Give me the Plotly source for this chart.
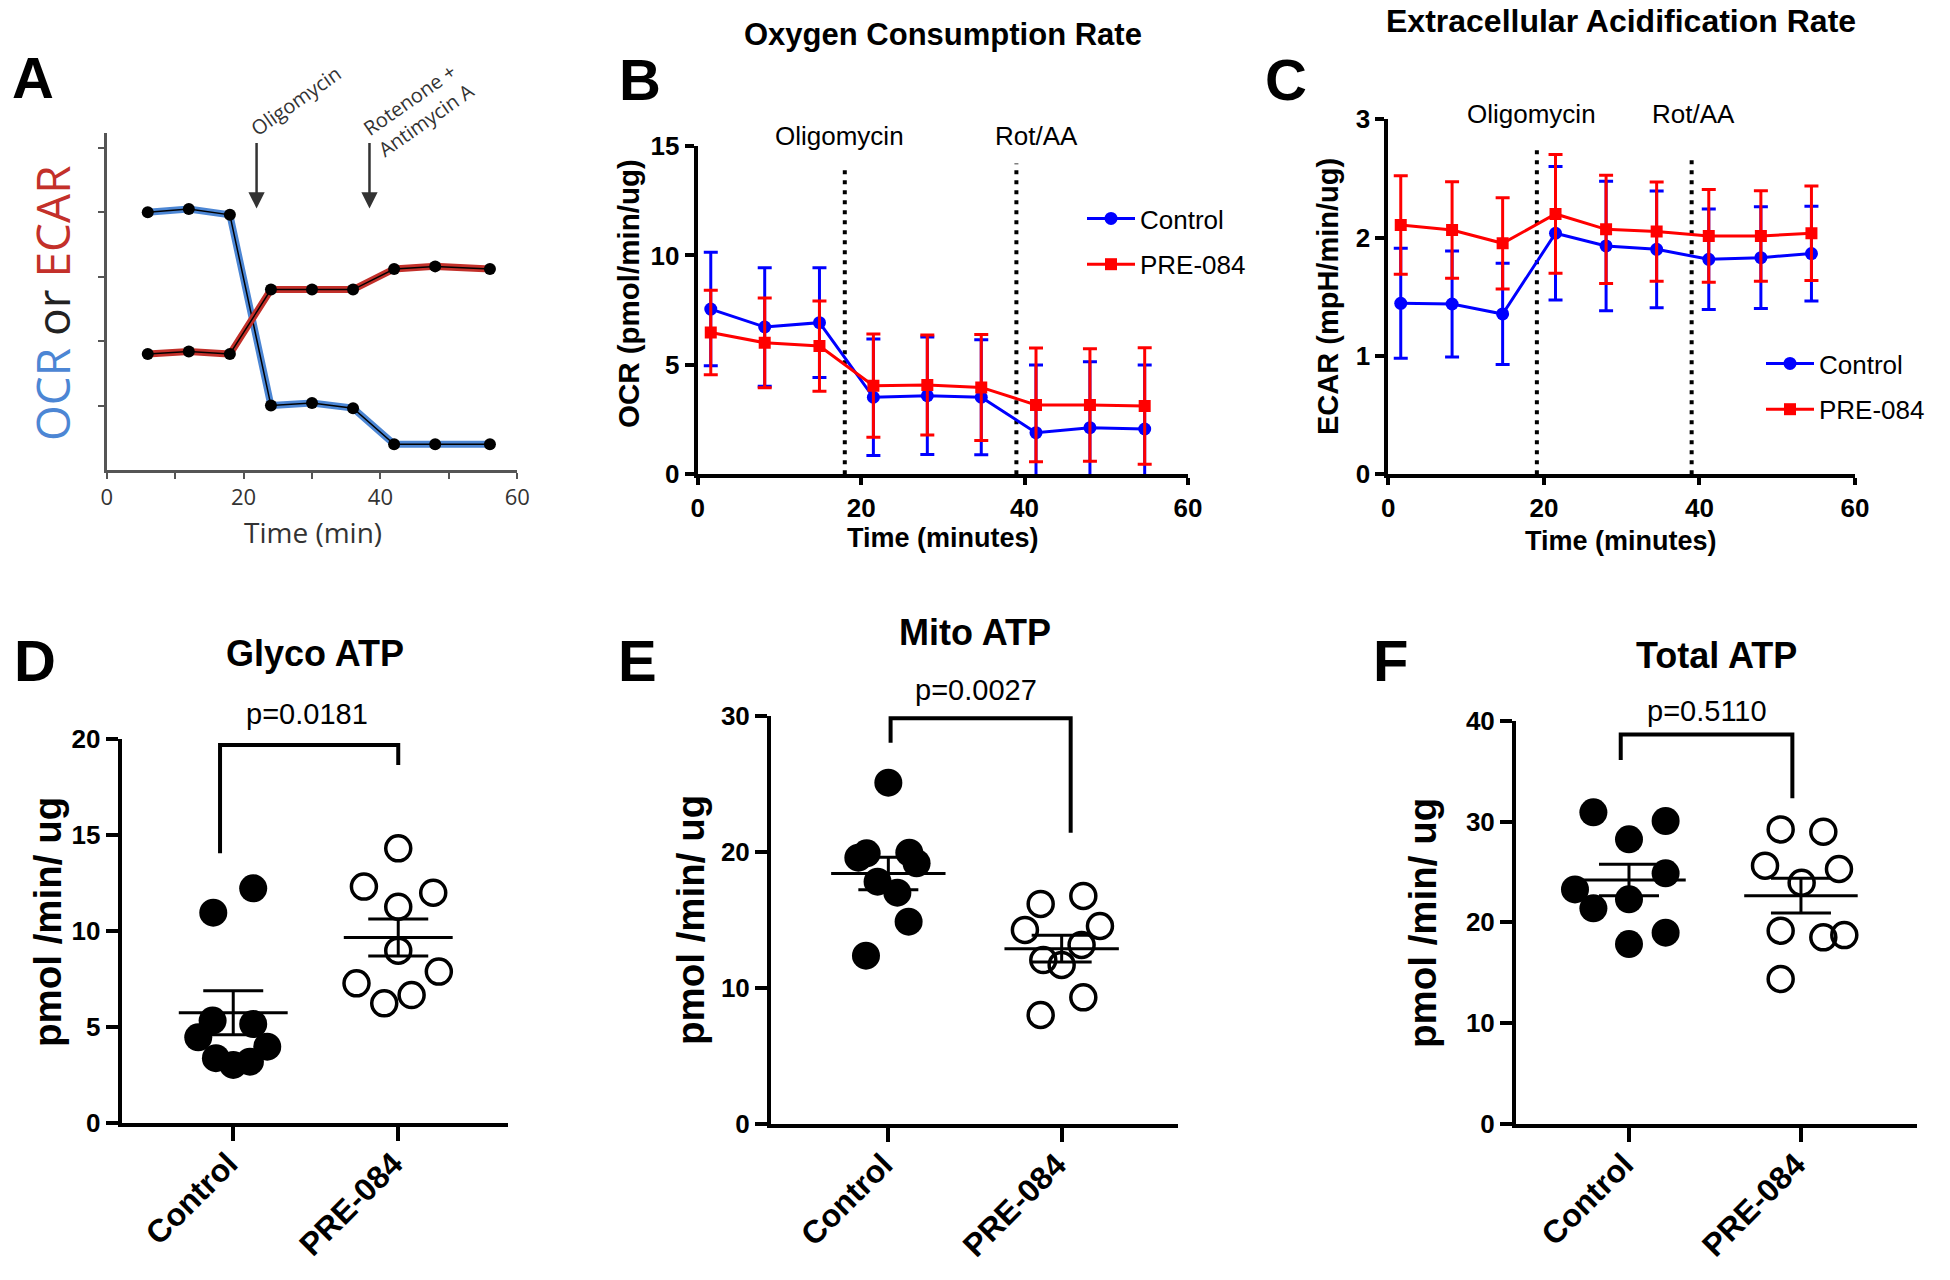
import numpy as np
import plotly.graph_objects as go

W, H = 1950, 1280
def X(px): return px / W
def Y(py): return 1 - py / H

# ---------------- data ----------------
# Panel A (schematic)
a_time = [6, 12, 18, 24, 30, 36, 42, 48, 56]
a_ocr = [4.00, 4.05, 3.96, 1.00, 1.04, 0.96, 0.40, 0.40, 0.40]
a_ecar = [1.80, 1.84, 1.80, 2.80, 2.80, 2.80, 3.12, 3.16, 3.12]
a_inject_x = [21.9, 38.4]
a_ticks_x = [0, 20, 40, 60]

# Panel B (OCR)
b_time = [1.6, 8.2, 14.9, 21.5, 28.1, 34.7, 41.4, 48.0, 54.7]
b_ctrl = [7.55, 6.73, 6.93, 3.52, 3.59, 3.52, 1.90, 2.13, 2.07]
b_ctrl_err = [2.59, 2.71, 2.51, 2.66, 2.68, 2.63, 3.09, 3.01, 2.92]
b_pre = [6.48, 6.01, 5.86, 4.05, 4.08, 3.97, 3.17, 3.17, 3.12]
b_pre_err = [1.93, 2.05, 2.06, 2.36, 2.28, 2.42, 2.60, 2.57, 2.66]
b_inject_x = [18.0, 39.0]
b_inject_top = [14.0, 14.2]

# Panel C (ECAR)
c_time = [1.6, 8.2, 14.7, 21.5, 28.0, 34.5, 41.2, 47.9, 54.4]
c_ctrl = [1.445, 1.439, 1.355, 2.037, 1.930, 1.901, 1.817, 1.831, 1.865]
c_ctrl_err = [0.465, 0.448, 0.428, 0.565, 0.547, 0.493, 0.425, 0.430, 0.400]
c_pre = [2.107, 2.065, 1.952, 2.200, 2.070, 2.051, 2.014, 2.014, 2.037]
c_pre_err = [0.417, 0.408, 0.386, 0.502, 0.458, 0.420, 0.392, 0.383, 0.400]
c_inject_x = [19.1, 39.0]
c_inject_top = [2.755, 2.685]

groups = ["Control", "PRE-084"]

# Panel D (Glyco ATP)
d_ctrl = [10.97, 12.24, 5.35, 5.17, 4.48, 3.99, 3.39, 3.21, 3.04]
d_ctrl_jit = [-0.121, 0.121, -0.125, 0.121, -0.212, 0.206, -0.105, 0.101, 0.0]
d_pre = [14.32, 12.33, 12.01, 11.28, 8.99, 7.90, 7.29, 6.68, 6.25]
d_pre_jit = [0.0, -0.208, 0.212, 0.0, 0.0, 0.246, -0.253, 0.081, -0.085]
d_bracket = [-0.08, 1.0, 14.06, 19.7, 18.66]
d_p = "p=0.0181"

# Panel E (Mito ATP)
e_ctrl = [25.10, 19.59, 19.91, 19.96, 19.18, 17.83, 17.02, 14.89, 12.39]
e_ctrl_jit = [0.0, -0.173, -0.125, 0.121, 0.163, -0.062, 0.052, 0.117, -0.129]
e_pre = [16.78, 16.19, 14.57, 14.28, 13.18, 12.07, 11.71, 9.33, 8.03]
e_pre_jit = [0.125, -0.121, 0.221, -0.212, 0.115, -0.106, 0.0, 0.125, -0.121]
e_bracket = [0.013, 1.052, 28.04, 29.83, 21.43]
e_p = "p=0.0027"

# Panel F (Total ATP)
f_ctrl = [30.91, 30.05, 28.23, 24.86, 23.27, 22.28, 21.39, 18.98, 17.85]
f_ctrl_jit = [-0.207, 0.213, 0.0, 0.213, -0.314, 0.0, -0.207, 0.213, 0.0]
f_pre = [29.22, 28.99, 25.62, 25.29, 23.93, 19.17, 18.51, 18.74, 14.38]
f_pre_jit = [-0.118, 0.130, -0.209, 0.221, 0.004, -0.118, 0.130, 0.252, -0.118]
f_bracket = [-0.048, 0.95, 36.1, 38.64, 32.3]
f_p = "p=0.5110"

# ---------------- geometry (pixel boxes of each plot area) ----------------
GEOM = {
    "A": dict(x=(106.7, 517.3), xr=(0, 60), y=(470.0, 133.0), yr=(0, 5.23)),
    "B": dict(x=(697.7, 1188.0), xr=(0, 60), y=(474.3, 146.0), yr=(0, 15)),
    "C": dict(x=(1388.3, 1855.0), xr=(0, 60), y=(474.3, 119.3), yr=(0, 3)),
    "D": dict(x=(121.7, 508.3), xr=(-0.676, 1.667), y=(1123.3, 739.3), yr=(0, 20)),
    "E": dict(x=(771.0, 1178.3), xr=(-0.677, 1.673), y=(1124.3, 716.0), yr=(0, 30)),
    "F": dict(x=(1516.0, 1916.7), xr=(-0.657, 1.673), y=(1124.0, 720.7), yr=(0, 40)),
}

def P(panel, xv, yv):
    g = GEOM[panel]
    px = g["x"][0] + (xv - g["xr"][0]) / (g["xr"][1] - g["xr"][0]) * (g["x"][1] - g["x"][0])
    py = g["y"][0] + (yv - g["yr"][0]) / (g["yr"][1] - g["yr"][0]) * (g["y"][1] - g["y"][0])
    return X(px), Y(py)

def xdom(panel): return [X(GEOM[panel]["x"][0]), X(GEOM[panel]["x"][1])]
def ydom(panel): return [Y(GEOM[panel]["y"][0]), Y(GEOM[panel]["y"][1])]
def xrng(panel): return list(GEOM[panel]["xr"])
def yrng(panel): return list(GEOM[panel]["yr"])

# ---------------- styles ----------------
PRISM = "Liberation Sans, Arial, Helvetica, sans-serif"
AFONT = "Open Sans, DejaVu Sans, sans-serif"
BLUE = "#0000FF"
RED = "#FF0000"
A_BLUE = "#4c86d4"
A_RED = "#c3302a"
A_GRAY = "#555555"

fig = go.Figure()
ann = []
shapes = []

def txt(text, xy, size, bold=False, family=PRISM, color="black", angle=0, align="center"):
    ann.append(dict(text=text, x=xy[0], y=xy[1], xref="paper", yref="paper", showarrow=False,
                    xanchor="center", yanchor="middle", textangle=angle, align=align,
                    font=dict(family=family, size=size, color=color,
                              weight="bold" if bold else "normal")))

def at(px, py): return (X(px), Y(py))

# ---------------- Panel A ----------------
for ys, col in [(a_ocr, A_BLUE), (a_ecar, A_RED)]:
    fig.add_trace(go.Scatter(x=a_time, y=ys, mode="lines", line=dict(color=col, width=7),
                             xaxis="x", yaxis="y", showlegend=False, hoverinfo="skip"))
    fig.add_trace(go.Scatter(x=a_time, y=ys, mode="lines+markers",
                             line=dict(color="black", width=1.5),
                             marker=dict(color="black", size=12),
                             xaxis="x", yaxis="y", showlegend=False, hoverinfo="skip"))
for xi in a_inject_x:
    ann.append(dict(x=xi, y=4.06, ax=xi, ay=5.1, xref="x", yref="y", axref="x", ayref="y",
                    showarrow=True, arrowhead=2, arrowsize=1.3, arrowwidth=2.5,
                    arrowcolor="#333333", text=""))
txt("Oligomycin", P("A", 27.7, 5.73), 20, family=AFONT, color="#333333", angle=-35)
txt("Rotenone +<br>Antimycin A", P("A", 45.5, 5.6), 20, family=AFONT, color="#333333",
    angle=-35, align="left")
txt("<span style='color:%s'>OCR</span> or <span style='color:%s'>ECAR</span>" % (A_BLUE, A_RED),
    at(52, 303), 46, family=AFONT, color="#222222", angle=-90)
txt("Time (min)", at(313, 532), 28, family=AFONT, color="#333333")

# ---------------- Panels B & C ----------------
def time_traces(t, ctrl, ctrl_err, pre, pre_err, xa, ya, leg):
    fig.add_trace(go.Scatter(
        x=t, y=ctrl, name="Control", mode="lines+markers", xaxis=xa, yaxis=ya, legend=leg,
        legendgroup=leg + "c", line=dict(color=BLUE, width=3),
        marker=dict(symbol="circle", size=13, color=BLUE),
        error_y=dict(type="data", array=ctrl_err, visible=True, color=BLUE, thickness=3, width=7)))
    fig.add_trace(go.Scatter(
        x=t, y=pre, name="PRE-084", mode="lines+markers", xaxis=xa, yaxis=ya, legend=leg,
        legendgroup=leg + "p", line=dict(color=RED, width=3),
        marker=dict(symbol="square", size=12, color=RED),
        error_y=dict(type="data", array=pre_err, visible=True, color=RED, thickness=3, width=7)))

time_traces(b_time, b_ctrl, b_ctrl_err, b_pre, b_pre_err, "x2", "y2", "legend")
time_traces(c_time, c_ctrl, c_ctrl_err, c_pre, c_pre_err, "x3", "y3", "legend2")

for xs, tops, xr, yr in [(b_inject_x, b_inject_top, "x2", "y2"), (c_inject_x, c_inject_top, "x3", "y3")]:
    for xi, tp in zip(xs, tops):
        shapes.append(dict(type="line", xref=xr, yref=yr, x0=xi, x1=xi, y0=0, y1=tp,
                           line=dict(color="black", width=4, dash="4px,6px"), layer="below"))

txt("Oligomycin", P("B", 17.3, 15.45), 26)
txt("Rot/AA", P("B", 41.4, 15.45), 26)
txt("Oligomycin", P("C", 18.4, 3.045), 26)
txt("Rot/AA", P("C", 39.2, 3.045), 26)

txt("Oxygen Consumption Rate", at(943, 34), 31, bold=True)
txt("Extracellular Acidification Rate", at(1621, 21), 32, bold=True)
txt("OCR (pmol/min/ug)", at(628, 294), 29.5, bold=True, angle=-90)
txt("ECAR (mpH/min/ug)", at(1328, 297), 29, bold=True, angle=-90)
txt("Time (minutes)", at(943, 538), 27, bold=True)
txt("Time (minutes)", at(1621, 541), 27, bold=True)

# ---------------- Panels D, E, F ----------------
def scatter_panel(ctrl, cj, pre, pj, bracket, xa, ya):
    fig.add_trace(go.Scatter(
        x=[0 + j for j in cj], y=ctrl, mode="markers", xaxis=xa, yaxis=ya, showlegend=False,
        marker=dict(symbol="circle", size=28, color="black", line=dict(width=0))))
    fig.add_trace(go.Scatter(
        x=[1 + j for j in pj], y=pre, mode="markers", xaxis=xa, yaxis=ya, showlegend=False,
        marker=dict(symbol="circle-open", size=25, color="black", line=dict(width=3.5, color="black"))))
    means = [float(np.mean(ctrl)), float(np.mean(pre))]
    sems = [float(np.std(ctrl, ddof=1) / np.sqrt(len(ctrl))),
            float(np.std(pre, ddof=1) / np.sqrt(len(pre)))]
    mx, my = [], []
    for i, m in enumerate(means):
        mx += [i - 0.33, i + 0.33, None]
        my += [m, m, None]
    fig.add_trace(go.Scatter(x=mx, y=my, mode="lines", xaxis=xa, yaxis=ya, showlegend=False,
                             line=dict(color="black", width=3), hoverinfo="skip"))
    fig.add_trace(go.Scatter(x=[0, 1], y=means, mode="markers", xaxis=xa, yaxis=ya, showlegend=False,
                             marker=dict(size=2, color="rgba(0,0,0,0)"),
                             error_y=dict(type="data", array=sems, visible=True, color="black",
                                          thickness=3, width=30)))
    xl, xr, ylb, yt, yrb = bracket
    fig.add_trace(go.Scatter(x=[xl, xl, xr, xr], y=[ylb, yt, yt, yrb], mode="lines",
                             xaxis=xa, yaxis=ya, showlegend=False, hoverinfo="skip",
                             line=dict(color="black", width=4)))

scatter_panel(d_ctrl, d_ctrl_jit, d_pre, d_pre_jit, d_bracket, "x4", "y4")
scatter_panel(e_ctrl, e_ctrl_jit, e_pre, e_pre_jit, e_bracket, "x5", "y5")
scatter_panel(f_ctrl, f_ctrl_jit, f_pre, f_pre_jit, f_bracket, "x6", "y6")

txt(d_p, P("D", 0.444, 21.3), 29)
txt(e_p, P("E", 0.504, 31.9), 29)
txt(f_p, P("F", 0.452, 40.97), 29)

txt("Glyco ATP", at(315, 653), 36, bold=True)
txt("Mito ATP", at(975, 632), 36, bold=True)
txt("Total ATP", at(1716, 655), 36, bold=True)
for xpx, ypx in [(47, 922), (690, 920), (1422, 923)]:
    txt("pmol /min/ ug", at(xpx, ypx), 38.5, bold=True, angle=-90)

# panel letters
for letter, xpx, ypx in [("A", 33, 77), ("B", 640, 79), ("C", 1286, 79),
                         ("D", 35, 660), ("E", 637, 660), ("F", 1390, 660)]:
    txt(letter, at(xpx, ypx), 58, bold=True)

# ---------------- axes ----------------
def prism_axis(panel, which, anchor, **kw):
    d = dict(domain=xdom(panel) if which == "x" else ydom(panel),
             range=xrng(panel) if which == "x" else yrng(panel),
             anchor=anchor, showline=True, linecolor="black", automargin=False,
             linewidth=4, ticks="outside", ticklen=9, tickwidth=4, tickcolor="black",
             showgrid=False, zeroline=False, fixedrange=True,
             tickfont=dict(family=PRISM, size=26, color="black", weight="bold"))
    d.update(kw)
    return d

cat_font = dict(family=PRISM, size=32, color="black", weight="bold")
cat_kw = dict(tickvals=[0, 1], ticktext=groups, tickangle=-45, ticklen=14, tickfont=cat_font,
              ticklabelstandoff=-9, ticklabelshift=-5)
a_axis = dict(showline=True, linecolor=A_GRAY, linewidth=2.5, ticks="outside", ticklen=6,
              tickwidth=2, tickcolor=A_GRAY, showgrid=False, zeroline=False, automargin=False)

layout_axes = dict(
    xaxis=dict(domain=xdom("A"), range=xrng("A"), anchor="y",
               tickvals=list(range(0, 61, 10)),
               ticktext=[str(v) if v in a_ticks_x else "" for v in range(0, 61, 10)],
               tickfont=dict(family=AFONT, size=22, color="#333333"), **a_axis),
    yaxis=dict(domain=ydom("A"), range=yrng("A"), anchor="x", tickvals=[1, 2, 3, 4, 5],
               showticklabels=False, **a_axis),
    xaxis2=prism_axis("B", "x", "y2", dtick=20, ticklen=7),
    yaxis2=prism_axis("B", "y", "x2", dtick=5),
    xaxis3=prism_axis("C", "x", "y3", dtick=20, ticklen=7),
    yaxis3=prism_axis("C", "y", "x3", dtick=1),
    xaxis4=prism_axis("D", "x", "y4", **cat_kw),
    yaxis4=prism_axis("D", "y", "x4", dtick=5, ticklen=12),
    xaxis5=prism_axis("E", "x", "y5", **cat_kw),
    yaxis5=prism_axis("E", "y", "x5", dtick=10, ticklen=12),
    xaxis6=prism_axis("F", "x", "y6", **cat_kw),
    yaxis6=prism_axis("F", "y", "x6", dtick=10, ticklen=12),
)

leg_common = dict(xanchor="left", yanchor="top", bgcolor="rgba(0,0,0,0)", borderwidth=0,
                  font=dict(family=PRISM, size=26, color="black"), itemwidth=48,
                  tracegroupgap=9, traceorder="grouped")

fig.update_layout(
    width=W, height=H,
    margin=dict(l=0, r=0, t=0, b=0, pad=0, autoexpand=False),
    paper_bgcolor="white", plot_bgcolor="white",
    showlegend=True,
    legend=dict(x=X(1082), y=Y(195), **leg_common),
    legend2=dict(x=X(1761), y=Y(340), **leg_common),
    annotations=ann, shapes=shapes,
    **layout_axes,
)

fig.write_html("out.html", config={"displayModeBar": False},
               post_script="document.body.style.margin='0px';")
